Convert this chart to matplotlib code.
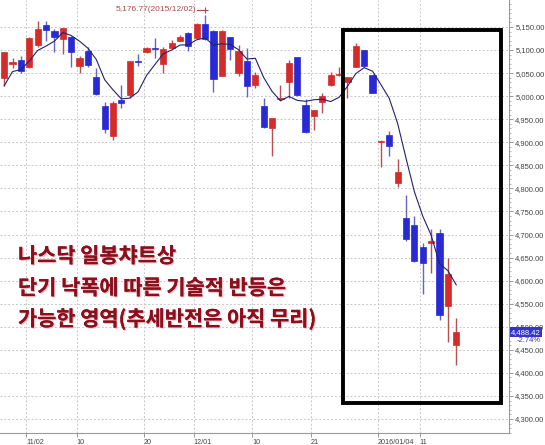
import matplotlib
matplotlib.use('Agg')
import matplotlib.pyplot as plt
import matplotlib.patheffects as pe
from matplotlib.patches import Rectangle
from matplotlib.ticker import FixedLocator, MultipleLocator, FuncFormatter
import numpy as np

# 나스닥 종합지수 일봉 (2015/10/28 ~ 2016/01/15), 인덱스 0 = 2015/11/02
days = list(range(-3, 52))
opens = [5039, 5070, 5078, 5063, 5111, 5154, 5141, 5123, 5128, 5066,
         5098, 5041, 4979, 4914, 4991, 5003, 5076, 5095, 5105, 5069,
         5105, 5120, 5138, 5127, 5157, 5142, 5044, 5128, 5050, 5076,
         5024, 4979, 4932, 4993, 5031, 5084, 4981, 4956, 4987, 5024,
         5045, 5031, 5064, 5100, 5046, 4900, 4916, 4812, 4735, 4720,
         4672, 4681, 4704, 4544, 4461]
highs = [5096, 5082, 5086, 5128, 5164, 5162, 5146, 5148, 5131, 5086,
         5107, 5062, 4987, 4990, 5024, 5076, 5091, 5107, 5126, 5107,
         5122, 5133, 5139, 5158, 5176.77, 5144, 5143, 5129, 5110, 5104,
         5053, 4995, 4953, 5024, 5079, 5085, 4994, 4969, 5006, 5053,
         5063, 5041, 5116, 5101, 5047, 4904, 4925, 4863, 4786, 4740,
         4682, 4711, 4711, 4649, 4520]
lows = [5021, 5060, 5050, 5062, 5107, 5120, 5096, 5091, 5064, 5050,
        5064, 5002, 4920, 4905, 4974, 4997, 5066, 5094, 5082, 5050,
        5104, 5119, 5098, 5126, 5121, 5010, 5043, 5078, 5044, 4999,
        5017, 4931, 4870, 4992, 4995, 5000, 4921, 4927, 4963, 5023,
        5044, 4995, 5063, 5064, 5006, 4847, 4870, 4804, 4686, 4641,
        4571, 4616, 4515, 4468, 4417]
closes = [5095.69, 5074.27, 5053.75, 5127.15, 5145.13, 5142.48, 5127.74, 5147.12, 5095.30, 5083.24,
          5067.02, 5005.08, 4927.88, 4984.62, 4986.02, 5075.20, 5073.64, 5104.92, 5102.48, 5102.81,
          5116.14, 5127.52, 5108.67, 5156.31, 5123.22, 5037.53, 5142.27, 5101.81, 5098.24, 5022.87,
          5045.17, 4933.47, 4952.23, 4995.13, 5071.13, 5002.55, 4923.08, 4968.92, 5001.11, 5045.93,
          5048.49, 5040.99, 5107.94, 5065.85, 5007.41, 4903.09, 4891.43, 4835.77, 4689.43, 4643.63,
          4637.99, 4685.92, 4526.06, 4615.00, 4488.42]
# 5일 이동평균
ma5 = [5022.5, 5053.3, 5057.7, 5076.2, 5099.2, 5108.6, 5119.3, 5137.9, 5131.6, 5119.2,
       5104.1, 5079.6, 5035.7, 5013.6, 4994.1, 4995.8, 5009.5, 5044.9, 5068.5, 5091.8,
       5100.0, 5110.8, 5111.5, 5122.3, 5126.4, 5110.7, 5113.6, 5112.2, 5100.6, 5080.5,
       5082.1, 5040.3, 5010.4, 4989.8, 4999.4, 4990.9, 4988.8, 4992.2, 4993.4, 4988.3,
       4997.5, 5021.1, 5048.9, 5061.8, 5054.1, 5025.1, 4995.1, 4940.7, 4865.4, 4792.7,
       4739.7, 4698.5, 4636.6, 4621.7, 4590.7]

price_ticks = list(range(4300, 5200, 50))
tick_days = [0, 6, 14, 20, 27, 34, 42, 47]
tick_labels = ['11/02', '10', '20', '12/01', '10', '21', '2016/01/04', '11']

up_c = '#d42b2b'
dn_c = '#2a2ad4'
small = ['Liberation Sans', 'DejaVu Sans']

fig = plt.figure(figsize=(5.45, 4.45), dpi=100)
ax = fig.add_axes([0, 12 / 445, 509 / 545, 433 / 445])

x = np.array(days)
o = np.array(opens)
c = np.array(closes)
up = c >= o
cols = np.where(up, up_c, dn_c)
wick_cols = np.where(up, '#b85050', '#6464c8')

ax.vlines(x, lows, highs, colors=wick_cols, lw=1.0, zorder=2)
bottom = np.minimum(o, c)
height = np.maximum(np.abs(c - o), 2.0)
ax.bar(x, height, bottom=bottom, width=0.74, color=cols, edgecolor=cols, lw=0.5, zorder=3)

ax.plot(x, ma5, color='#22226e', lw=0.8, zorder=4)

ax.set_xlim(-3.5, 57.3)
ax.set_ylim(4269.6, 5208.5)

# grid
for d in tick_days:
    ax.axvline(d - 0.35, color='#c8c8c8', lw=0.7, ls=(0, (2, 2)), zorder=0)
for v in price_ticks:
    ax.axhline(v, color='#c8c8c8', lw=0.7, ls=(0, (2, 2)), zorder=0)

ax.yaxis.tick_right()
ax.yaxis.set_major_locator(FixedLocator(price_ticks))
ax.yaxis.set_minor_locator(MultipleLocator(10))
ax.yaxis.set_major_formatter(FuncFormatter(lambda v, p: f'{v:,.2f}'))
ax.tick_params(axis='y', which='major', length=3, width=0.6, color='#888888',
               labelsize=5.5, labelcolor='#444444', pad=1.5)
ax.tick_params(axis='y', which='minor', length=1.5, width=0.5, color='#999999')
for lb in ax.get_yticklabels():
    lb.set_family(small)
ax.set_xticks([d - 0.35 for d in tick_days])
ax.set_xticklabels(tick_labels, ha='left')
ax.tick_params(axis='x', length=3, width=0.6, color='#888888', labelsize=5.2,
               labelcolor='#444444', pad=1)
for lb in ax.get_xticklabels():
    lb.set_family(small)

for s in ['left', 'top']:
    ax.spines[s].set_visible(False)
for s in ['right', 'bottom']:
    ax.spines[s].set_color('#9a9a9a')
    ax.spines[s].set_linewidth(0.8)

# 고점 표시
hi_i = days[highs.index(max(highs))]
ax.plot([hi_i - 0.95, hi_i - 0.1], [5187, 5187], color='#b04848', lw=0.8)
ax.plot(hi_i, 5187, marker='+', color='#b04848', ms=4, mew=0.8)
ax.text(hi_i - 1.0, 5187, '5,176.77(2015/12/02)', color='#b04848', fontsize=6,
        ha='right', va='center', family=small)

# 강조 박스
ax.add_patch(Rectangle((37.48, 4335.5), 56.35 - 37.48, 5143.5 - 4335.5, fill=False,
                       ec='black', lw=2.8, zorder=6))

# 현재가 표시
ax.text(1.004, closes[-1], '4,488.42', transform=ax.get_yaxis_transform(), fontsize=5.5,
        color='white', va='center', ha='left', family=small,
        bbox=dict(boxstyle='square,pad=0.2', fc='#3535c8', ec='none'), zorder=7)
ax.text(1.062, 4471, '-2.74%', transform=ax.get_yaxis_transform(), fontsize=5.5,
        color='#3535c8', va='center', ha='right', family=small, zorder=7)

txt = ['나스닥 일봉챠트상', '단기 낙폭에 따른 기술적 반등은', '가능한 영역(추세반전은 아직 무리)']
ys = [256, 288, 319]
for t, yy in zip(txt, ys):
    fig.text(18 / 545, 1 - yy / 445, t, fontsize=15, fontweight='bold', color='#8c0f1e',
             family=['Noto Sans CJK KR', 'DejaVu Sans'], va='center', ha='left',
             path_effects=[pe.withSimplePatchShadow(offset=(0.8, -0.8), shadow_rgbFace='#f0b0b0', alpha=0.9),
                           pe.Normal()])

fig.savefig('out.png', dpi=100)
